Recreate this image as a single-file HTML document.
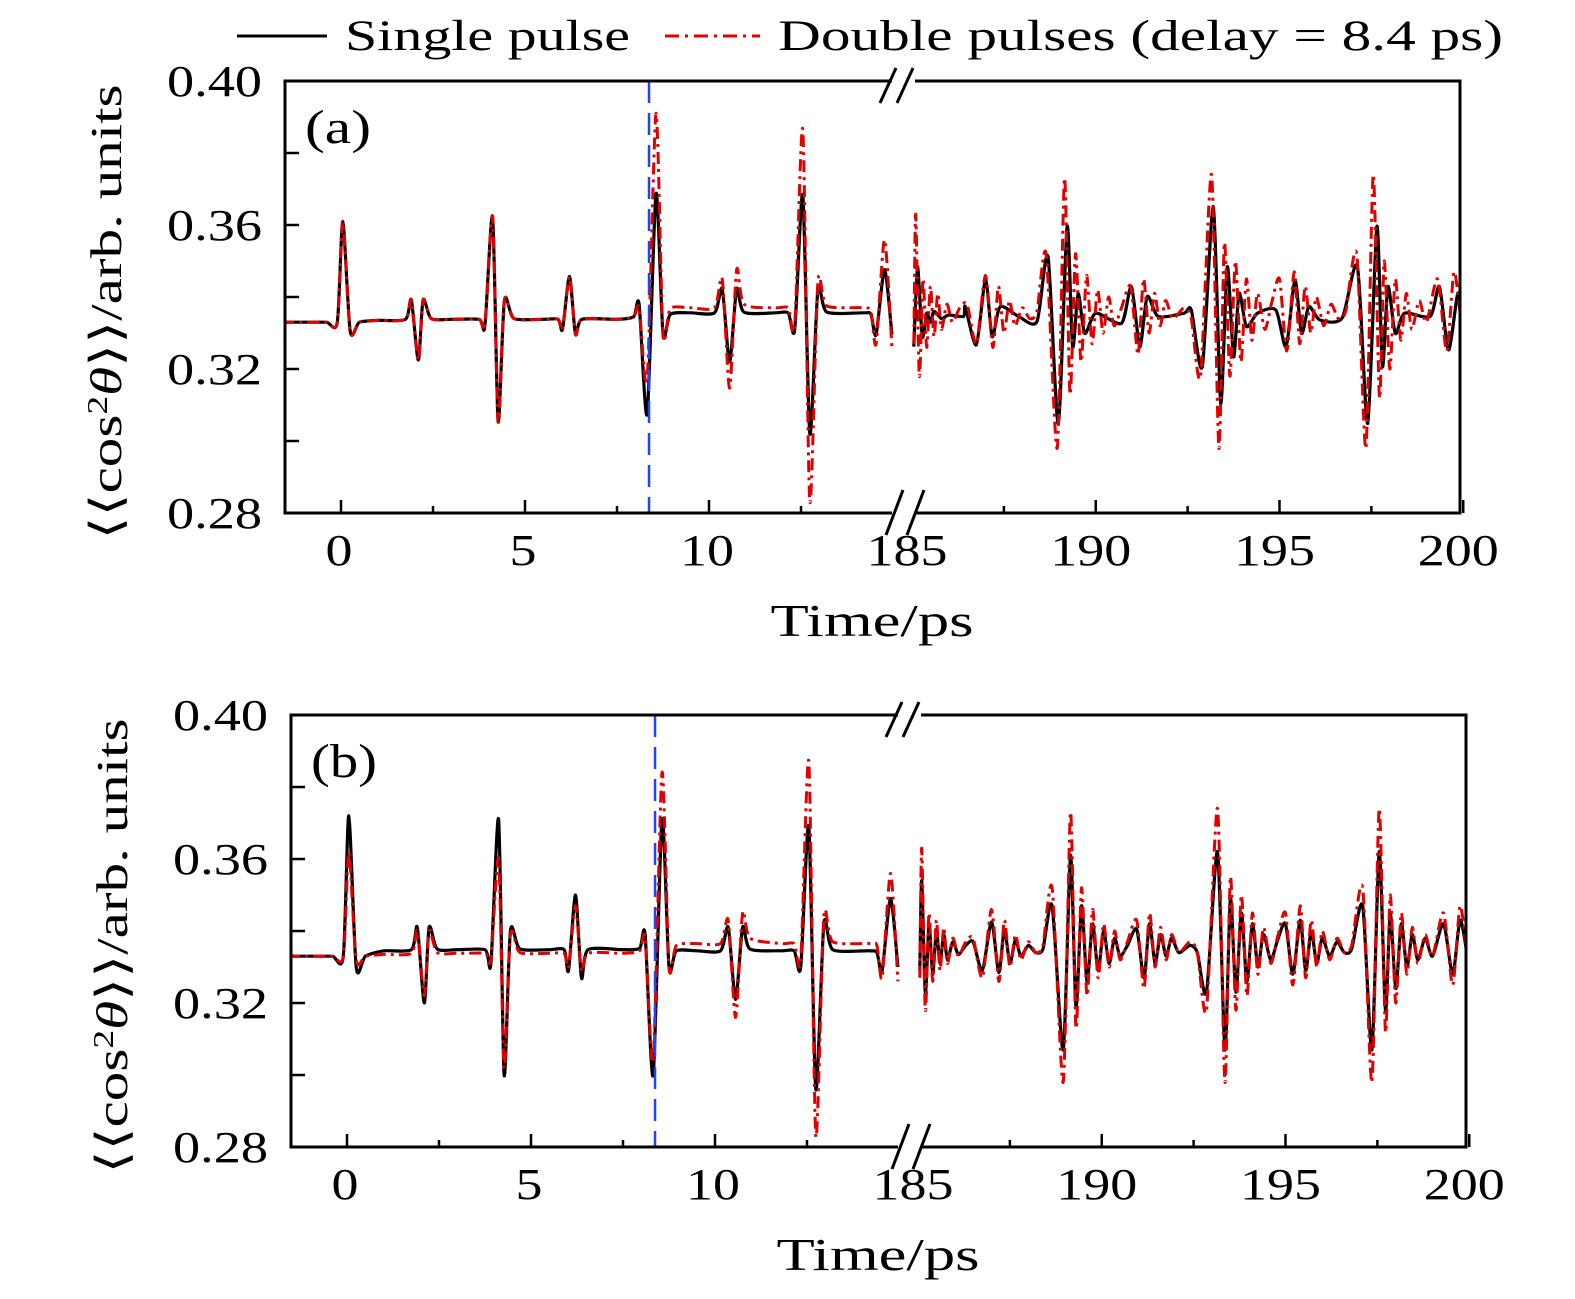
<!DOCTYPE html>
<html><head><meta charset="utf-8">
<style>
html,body{margin:0;padding:0;background:#fff;}
svg{display:block;font-family:"Liberation Serif",serif;}
</style></head>
<body>
<svg id="chart" width="1575" height="1299" viewBox="0 0 1575 1299" xmlns="http://www.w3.org/2000/svg">
<g>
  <line x1="237" y1="36" x2="327" y2="36" stroke="#000" stroke-width="3"/>
  <text x="345" y="50" font-size="43" textLength="285" lengthAdjust="spacingAndGlyphs">Single pulse</text>
  <line x1="665" y1="36" x2="760" y2="36" stroke="#e00000" stroke-width="3" stroke-dasharray="14,6,3,6"/>
  <text x="778" y="50" font-size="43" textLength="725" lengthAdjust="spacingAndGlyphs">Double pulses (delay = 8.4 ps)</text>
</g>
<g id="panelA"></g>
<g id="panelB"></g>
</svg>
<script>
// ---- data: [time ps, <cos^2 theta>] keypoints ----
const aLeftTimes  = [-1.6,-1.0,-0.4,-0.1,0.05,0.25,0.5,1.0,1.75,1.91,2.1,2.23,2.45,3.0,3.75,3.91,4.12,4.27,4.44,4.7,5.5,5.9,6.02,6.21,6.37,6.55,7.5,7.95,8.1,8.32,8.56,8.75,8.95,9.5,10.15,10.36,10.56,10.75,10.95,11.8,12.15,12.33,12.55,12.74,12.96,13.2,14.2,14.4,14.54,14.77,14.97];
const aLeftBlack  = [0.333,0.333,0.333,0.333,0.361,0.3305,0.333,0.3335,0.3338,0.3392,0.3225,0.3392,0.334,0.3338,0.3338,0.332,0.3623,0.3054,0.339,0.334,0.3338,0.3338,0.331,0.3457,0.3297,0.3338,0.3338,0.3345,0.338,0.3075,0.3687,0.3297,0.3352,0.3356,0.3356,0.3422,0.322,0.3422,0.3358,0.3356,0.3356,0.331,0.3683,0.302,0.342,0.3358,0.3356,0.3352,0.3295,0.3476,0.3296];
const aLeftRed    = [0.333,0.333,0.333,0.333,0.361,0.3305,0.333,0.3335,0.3338,0.3392,0.3225,0.3392,0.334,0.3338,0.3338,0.332,0.3623,0.3054,0.339,0.334,0.3338,0.3338,0.331,0.3457,0.3297,0.3338,0.3338,0.3345,0.337,0.317,0.391,0.3297,0.3368,0.337,0.337,0.345,0.3147,0.3475,0.338,0.337,0.337,0.332,0.3864,0.2832,0.344,0.3375,0.337,0.336,0.327,0.3559,0.326];
const aRightTimes = [185.05,185.15,185.28,185.4,185.5,185.6,185.8,186.0,186.4,186.45,186.75,187.0,187.18,187.4,187.9,188.4,188.7,188.98,189.22,189.37,189.52,189.7,190.0,190.7,190.97,191.2,191.4,191.7,192.4,192.6,192.9,193.2,193.4,193.58,193.75,193.9,194.1,194.4,194.9,195.18,195.42,195.6,195.8,196.1,196.7,197.12,197.4,197.65,197.8,197.95,198.15,198.4,199.1,199.35,199.6,199.85,199.95];
const aRightBlack = [0.3262,0.3484,0.329,0.3355,0.333,0.336,0.334,0.335,0.3346,0.3373,0.3267,0.3447,0.329,0.3373,0.3346,0.3332,0.3512,0.3049,0.3596,0.3262,0.341,0.3299,0.3355,0.3327,0.3429,0.3262,0.3401,0.3346,0.3355,0.3364,0.3207,0.3651,0.3105,0.3484,0.3234,0.341,0.3318,0.3355,0.3364,0.3262,0.3447,0.3299,0.3373,0.3336,0.3341,0.3484,0.3049,0.3596,0.3207,0.3429,0.3299,0.3355,0.3346,0.3429,0.3253,0.341,0.335];
const rightRedTimes = [185.05,185.1,185.2,185.3,185.4,185.5,185.6,185.7,185.8,185.95,186.1,186.3,186.5,186.75,187.0,187.2,187.35,187.5,187.65,187.8,188.0,188.2,188.4,188.65,188.95,189.15,189.3,189.45,189.6,189.75,189.9,190.05,190.2,190.35,190.5,190.7,190.95,191.15,191.3,191.45,191.6,191.75,191.9,192.1,192.4,192.6,192.85,193.15,193.35,193.5,193.65,193.8,193.95,194.1,194.25,194.4,194.6,194.8,195.0,195.2,195.4,195.55,195.7,195.85,196.0,196.2,196.4,196.6,196.8,197.1,197.35,197.55,197.72,197.85,198.0,198.15,198.3,198.45,198.6,198.8,199.0,199.3,199.55,199.75,199.95];
const rightRedValues = [0.327,0.363,0.318,0.345,0.326,0.343,0.329,0.341,0.331,0.338,0.333,0.337,0.338,0.327,0.346,0.326,0.343,0.330,0.339,0.332,0.337,0.334,0.336,0.352,0.298,0.373,0.313,0.352,0.322,0.346,0.327,0.342,0.330,0.340,0.332,0.337,0.343,0.324,0.345,0.330,0.341,0.332,0.339,0.334,0.337,0.334,0.318,0.374,0.298,0.355,0.318,0.350,0.322,0.345,0.328,0.341,0.331,0.339,0.345,0.325,0.347,0.327,0.343,0.330,0.340,0.332,0.338,0.334,0.336,0.352,0.298,0.374,0.312,0.350,0.320,0.345,0.328,0.341,0.331,0.339,0.333,0.345,0.325,0.347,0.332];
const bLeftBlack  = [0.333,0.333,0.333,0.333,0.372,0.330,0.333,0.3345,0.3348,0.341,0.320,0.341,0.335,0.3348,0.3348,0.331,0.371,0.300,0.340,0.335,0.3348,0.3348,0.329,0.350,0.327,0.3348,0.3348,0.3352,0.339,0.300,0.371,0.330,0.3345,0.3345,0.3345,0.341,0.321,0.341,0.335,0.3345,0.3345,0.330,0.369,0.296,0.342,0.3348,0.3345,0.334,0.329,0.349,0.330];
const bLeftRed    = [0.333,0.333,0.333,0.333,0.362,0.332,0.333,0.3335,0.3338,0.340,0.322,0.340,0.334,0.3338,0.3338,0.332,0.360,0.302,0.339,0.334,0.3338,0.3338,0.330,0.347,0.329,0.3338,0.3338,0.3345,0.338,0.304,0.384,0.330,0.336,0.3365,0.3365,0.343,0.316,0.345,0.338,0.3365,0.3365,0.332,0.387,0.283,0.344,0.337,0.3365,0.336,0.327,0.356,0.326];
const bRightBlack = [0.329,0.354,0.323,0.342,0.328,0.340,0.331,0.339,0.332,0.337,0.3335,0.336,0.337,0.329,0.3425,0.3285,0.3405,0.331,0.3375,0.333,0.336,0.334,0.335,0.347,0.307,0.361,0.319,0.347,0.326,0.342,0.329,0.340,0.331,0.338,0.333,0.336,0.3405,0.327,0.342,0.331,0.339,0.333,0.338,0.334,0.336,0.334,0.323,0.362,0.307,0.349,0.323,0.345,0.326,0.342,0.330,0.339,0.332,0.338,0.342,0.328,0.343,0.329,0.340,0.331,0.338,0.333,0.337,0.334,0.335,0.347,0.307,0.362,0.318,0.345,0.324,0.342,0.330,0.339,0.332,0.338,0.333,0.342,0.328,0.343,0.333];
const yTickLabels = ["0.28","0.32","0.36","0.40"];
const yTickValues = [0.28,0.32,0.36,0.40];
const yMinorValues = [0.30,0.34,0.38];
const xLeftTickValues = [0,5,10];
const xRightTickValues = [185,190,195,200];
const delayTime = 8.37;

const NS = "http://www.w3.org/2000/svg";
function mk(parent, tag, attrs){ const e=document.createElementNS(NS,tag); for(const k in attrs) e.setAttribute(k,attrs[k]); parent.appendChild(e); return e; }

function curvePath(ts, vs, fx, fy){
  const P = ts.map((t,i)=>[fx(t), fy(vs[i])]);
  let d = "M"+P[0][0].toFixed(1)+","+P[0][1].toFixed(1);
  for(let i=0;i<P.length-1;i++){
    const p0=P[Math.max(0,i-1)], p1=P[i], p2=P[i+1], p3=P[Math.min(P.length-1,i+2)];
    const k=1/8;
    const c1=[p1[0]+(p2[0]-p0[0])*k, p1[1]+(p2[1]-p0[1])*k];
    const c2=[p2[0]-(p3[0]-p1[0])*k, p2[1]-(p3[1]-p1[1])*k];
    d+=" C"+c1[0].toFixed(1)+","+c1[1].toFixed(1)+" "+c2[0].toFixed(1)+","+c2[1].toFixed(1)+" "+p2[0].toFixed(1)+","+p2[1].toFixed(1);
  }
  return d;
}

function drawPanel(g, ox, oy, label, lb, lr, rb, rr){
  const top=81+oy, bot=513+oy, left=285+ox, right=1460+ox;
  const breakL=892+ox, breakR=915+ox;
  const fy = v => top + (0.40 - v)/0.12*(bot-top);
  const fxL = t => 341+ox + t*36.8;
  const fxR = t => 912+ox + (t-185)*36.75;
  const defs = mk(g,"defs",{});
  const cl = mk(defs,"clipPath",{id:"cl"+label}); mk(cl,"rect",{x:left,y:top-40,width:breakL-left+2,height:bot-top+60});
  const cr = mk(defs,"clipPath",{id:"cr"+label}); mk(cr,"rect",{x:breakR-8,y:top-40,width:right-breakR+8,height:bot-top+60});
  const sL = mk(g,"path",{d:curvePath(aLeftTimes,lb,fxL,fy),fill:"none",stroke:"#000","stroke-width":3.2,"clip-path":"url(#cl"+label+")"});
  
  
  const rL = mk(g,"path",{d:curvePath(aLeftTimes,lr,fxL,fy),fill:"none",stroke:"#e00000","stroke-width":3,"stroke-dasharray":"12,5,3,5","clip-path":"url(#cl"+label+")"});
  
  
  const rTimes = rb.length===aRightTimes.length ? aRightTimes : rightRedTimes;
  const sR = mk(g,"path",{d:curvePath(rTimes,rb,fxR,fy),fill:"none",stroke:"#000","stroke-width":3.2,"clip-path":"url(#cr"+label+")"});
  
  
  const rR = mk(g,"path",{d:curvePath(rightRedTimes,rr,fxR,fy),fill:"none",stroke:"#e00000","stroke-width":3,"stroke-dasharray":"12,5,3,5","clip-path":"url(#cr"+label+")"});
  
  
  const dl = mk(g,"line",{x1:fxL(delayTime),y1:top,x2:fxL(delayTime),y2:bot,stroke:"#2244ee","stroke-width":2.5,"stroke-dasharray":"22,10"});
  
  
  const fr = mk(g,"path",{d:`M${breakL},${top} H${left} V${bot} H${breakL} M${breakR},${top} H${right} V${bot} H${breakR}`,fill:"none",stroke:"#000","stroke-width":3});
  
  
  const bk = mk(g,"path",{d:`M${ox+880},${oy+103} L${ox+896},${oy+68} M${ox+897},${oy+103} L${ox+913},${oy+68} M${ox+886},${oy+535} L${ox+903},${oy+490} M${ox+907},${oy+535} L${ox+924},${oy+490}`,stroke:"#000","stroke-width":3,fill:"none"});
  
  
  yTickValues.forEach((v,i)=>{
    const y=fy(v);
    const tk=mk(g,"line",{x1:left,y1:y,x2:left+14,y2:y,stroke:"#000","stroke-width":2.5});
    
    
    const tx=mk(g,"text",{x:left-118,y:y+15,"font-size":44,textLength:95,lengthAdjust:"spacingAndGlyphs"});
    tx.textContent=yTickLabels[i];
    
    
  });
  yMinorValues.forEach(v=>{
    const y=fy(v);
    const tk=mk(g,"line",{x1:left,y1:y,x2:left+14,y2:y,stroke:"#000","stroke-width":2.5});
    
    
  });
  xLeftTickValues.forEach(t=>{
    const x=fxL(t);
    const tk=mk(g,"line",{x1:x,y1:bot,x2:x,y2:bot-13,stroke:"#000","stroke-width":2.5});
    
    
    const m=mk(g,"line",{x1:fxL(t+2.5),y1:bot,x2:fxL(t+2.5),y2:bot-7,stroke:"#000","stroke-width":2.5});
    
    
    const s=String(t);
    const tx=mk(g,"text",{x:x-2,y:bot+52,"font-size":44,"text-anchor":"middle",textLength:s.length*27,lengthAdjust:"spacingAndGlyphs"});
    tx.textContent=s;
    
    
  });
  xRightTickValues.forEach(t=>{
    const x=fxR(t);
    if(t>185){
      const tk=mk(g,"line",{x1:x,y1:bot,x2:x,y2:bot-13,stroke:"#000","stroke-width":2.5});
      
      
    }
    if(t<200){
      const m=mk(g,"line",{x1:fxR(t+2.5),y1:bot,x2:fxR(t+2.5),y2:bot-7,stroke:"#000","stroke-width":2.5});
      
      
    }
    const tx=mk(g,"text",{x:x-5,y:bot+52,"font-size":44,"text-anchor":"middle",textLength:81,lengthAdjust:"spacingAndGlyphs"});
    tx.textContent=String(t);
    
    
  });
  const xt=mk(g,"text",{x:872+ox,y:bot+123,"font-size":46,"text-anchor":"middle",textLength:203,lengthAdjust:"spacingAndGlyphs"});
  xt.textContent="Time/ps";
  
  
  const yt=mk(g,"text",{x:0,y:0,"font-size":44,"text-anchor":"middle",textLength:455,lengthAdjust:"spacingAndGlyphs",transform:`translate(${121+ox},${312+oy}) rotate(-90)`});
  yt.innerHTML='⟨⟨cos<tspan dy="-14" font-size="28">2</tspan><tspan dy="14" font-style="italic">θ</tspan>⟩⟩/arb. units';
  
  
  const pl=mk(g,"text",{x:left+20,y:top+62,"font-size":48,textLength:66,lengthAdjust:"spacingAndGlyphs"});
  pl.textContent="("+label+")";
  
  
}
drawPanel(document.getElementById("panelA"),0,0,"a",aLeftBlack,aLeftRed,aRightBlack,rightRedValues);
drawPanel(document.getElementById("panelB"),6,634,"b",bLeftBlack,bLeftRed,bRightBlack,rightRedValues);
</script>
</body></html>
